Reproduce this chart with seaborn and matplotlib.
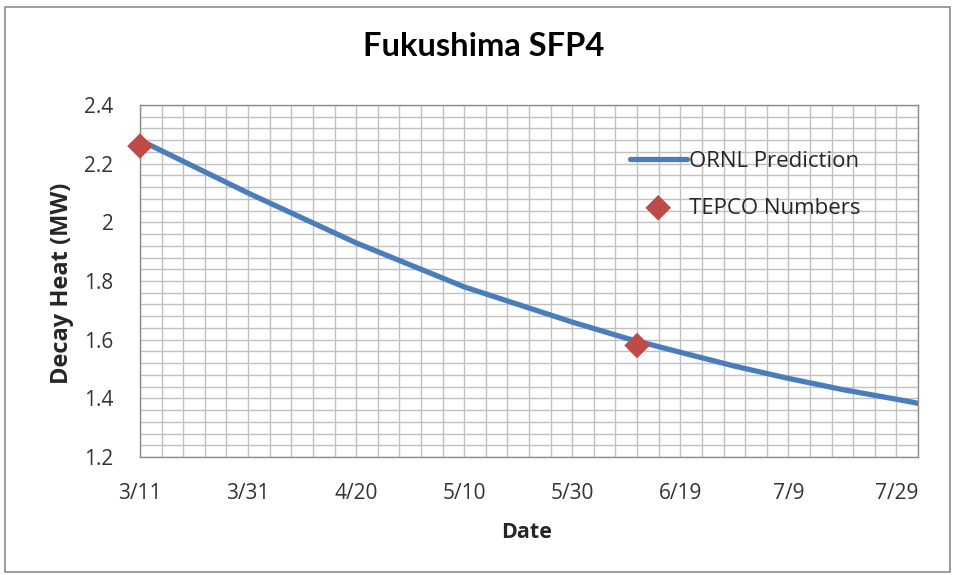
import matplotlib
matplotlib.use("Agg")
import matplotlib.pyplot as plt
from matplotlib.ticker import MultipleLocator, FuncFormatter
from matplotlib.patches import Rectangle
import pandas as pd
import seaborn as sns

# ORNL decay-heat prediction for spent fuel pool 4 (MW), 2011
pred_dates = ["2011-03-11", "2011-03-21", "2011-03-31", "2011-04-10", "2011-04-20",
              "2011-04-30", "2011-05-10", "2011-05-20", "2011-05-30", "2011-06-09",
              "2011-06-19", "2011-06-29", "2011-07-09", "2011-07-19", "2011-07-29",
              "2011-08-02"]
pred_mw = [2.28, 2.19, 2.10, 2.015, 1.93, 1.855, 1.78, 1.72, 1.66, 1.605,
           1.557, 1.51, 1.468, 1.43, 1.397, 1.383]

# TEPCO reported values
tepco_dates = ["2011-03-11", "2011-06-11"]
tepco_mw = [2.26, 1.58]

tick_labels = ["3/11", "3/31", "4/20", "5/10", "5/30", "6/19", "7/9", "7/29"]

pred = pd.DataFrame({"Date": pd.to_datetime(pred_dates), "MW": pred_mw})
tepco = pd.DataFrame({"Date": pd.to_datetime(tepco_dates), "MW": tepco_mw})

sns.set_theme(style="white")
plt.rcParams["font.family"] = ["Open Sans", "DejaVu Sans"]

W, H = 954, 575
L, R, T, B = 140, 918, 105, 457
fig = plt.figure(figsize=(W / 100, H / 100), dpi=100)
ax = fig.add_axes([L / W, 1 - B / H, (R - L) / W, (B - T) / H])

sns.lineplot(data=pred, x="Date", y="MW", ax=ax, color="#4a7ebb", linewidth=3.8,
             label="ORNL Prediction", zorder=3)
sns.scatterplot(data=tepco, x="Date", y="MW", ax=ax, color="#be4b48", marker="D",
                s=170, edgecolor="none", label="TEPCO Numbers", zorder=4, clip_on=False)

start = pd.Timestamp("2011-03-11")
ax.set_xlim(start, start + pd.Timedelta(days=144))
ax.set_ylim(1.2, 2.4)

major_dates = [pd.Timestamp(f"2011/{t}") for t in tick_labels]
ax.set_xticks(major_dates)
ax.set_xticklabels(tick_labels)
ax.xaxis.set_minor_locator(MultipleLocator(4))
ax.yaxis.set_major_locator(MultipleLocator(0.2))
ax.yaxis.set_minor_locator(MultipleLocator(0.04))
ax.yaxis.set_major_formatter(FuncFormatter(lambda v, p: f"{v:g}"))

ax.grid(True, which="both", color="#c0c0c0", linewidth=1.0)
ax.set_axisbelow(True)
for s in ax.spines.values():
    s.set_color("#8c8c8c")
    s.set_linewidth(1.0)

ax.tick_params(axis="both", which="major", direction="out", length=5, width=1,
               color="#8c8c8c", labelsize=15, labelcolor="#333333")
ax.tick_params(axis="both", which="minor", length=0)
ax.tick_params(axis="x", pad=14)
ax.tick_params(axis="y", pad=14)

ax.set_xlabel("Date", fontsize=15.5, fontweight="bold", color="#262626", va="center")
ax.set_ylabel("Decay Heat (MW)", fontsize=17, fontweight="bold", color="#262626",
              va="center")
ax.xaxis.set_label_coords((527 - L) / (R - L), (B - 532) / (B - T))
ax.yaxis.set_label_coords((62 - L) / (R - L), (B - 283) / (B - T))

fig.text(484 / W, 1 - 47 / H, "Fukushima SFP4", ha="center", va="center",
         fontsize=23.5, fontweight="bold", color="black", family=["Lato", "DejaVu Sans"])

leg = ax.legend(loc="upper left", bbox_to_anchor=((621 - L) / (R - L), (B - 142) / (B - T)),
                frameon=False, fontsize=16, handlelength=2.55, labelspacing=1.16,
                handletextpad=0.1, borderaxespad=0)
for t in leg.get_texts():
    t.set_color("#262626")

fig.patches.append(Rectangle((5 / W, 1 - 572 / H), 945 / W, 565 / H,
                             transform=fig.transFigure, fill=False,
                             edgecolor="#8c8c8c", linewidth=1.2))

fig.savefig("out.png", dpi=100, facecolor="white")
